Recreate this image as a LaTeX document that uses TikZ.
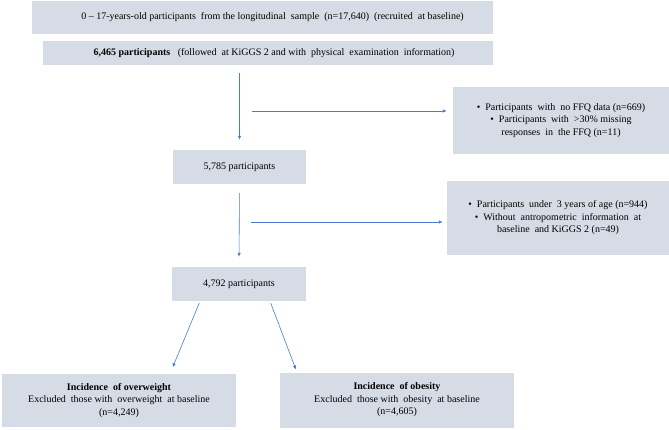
\documentclass[tikz,border=0pt]{standalone}
\usepackage{fontspec}
\setmainfont{Liberation Serif}
\usepackage{xcolor}
\usetikzlibrary{arrows.meta}
\definecolor{BoxGray}{HTML}{D6DCE5}
\definecolor{FlowBlue}{HTML}{4A7BD0}

\begin{document}
\begin{tikzpicture}[x=1pt, y=-1pt,
    box/.style={fill=BoxGray, inner sep=0pt, align=center, font=\fontsize{10}{12.5}\selectfont},
    flow/.style={draw=FlowBlue, line width=0.6pt, -{Latex[length=4pt,width=3.5pt]}}]
            \useasboundingbox (0,0) rectangle (669,430);
            % boxes of the flowchart, top to bottom
            \node[box, minimum width=461pt, minimum height=33pt] (sample) at (262.5,17.5) {\hspace*{20pt}0 -- 17-years-old participants\ \ from the longitudinal\ \ sample\ \ (n=17,640)\ \ (recruited\ \ at baseline)};
            \node[box, minimum width=450pt, minimum height=24pt] (followed) at (268,53) {\hspace*{12pt}\textbf{6,465 participants}\ \ \ (followed\ \ at KiGGS 2 and with\ \ physical\ \ examination\ \ information)};
            \node[box, minimum width=216pt, minimum height=67pt] (exclffq) at (561,120.5) {\textbullet\ \ Participants\ \ with\ \ no FFQ data (n=669)\\ \textbullet\ \ Participants\ \ with\ \ >30\% missing\\ responses\ \ in\ \ the FFQ (n=11)};
            \node[box, minimum width=133pt, minimum height=34pt] (partA) at (239.5,167) {5,785 participants};
            \node[box, minimum width=222pt, minimum height=74pt] (exclage) at (558,218) {\textbullet\ \ Participants\ \ under\ \ 3 years of age (n=944)\\ \textbullet\ \ Without\ \ antropometric\ \ information\ \ at\\ baseline\ \ and KiGGS 2 (n=49)};
            \node[box, minimum width=134pt, minimum height=34pt] (partB) at (239,284) {4,792 participants};
            \node[box, minimum width=234pt, minimum height=53pt] (overweight) at (119,400.5) {\textbf{Incidence\ \ of overweight}\\ Excluded\ \ those with\ \ overweight\ \ at baseline\\ (n=4,249)};
            \node[box, minimum width=234pt, minimum height=55pt] (obesity) at (397,400) {\textbf{Incidence\ \ of obesity}\\ Excluded\ \ those with\ \ obesity\ \ at baseline\\ (n=4,605)};

            % start points of the side branches
            \coordinate (branchA) at (252,111);
            \coordinate (branchB) at (251,222);

            \draw[flow, shorten <=8pt, shorten >=10pt] (partA.north |- followed.south) -- (partA.north);
            \draw[flow, shorten >=6pt] (branchA) -- (branchA -| exclffq.west);
            \draw[flow, shorten <=9pt, shorten >=10pt] (partA.south) -- (partB.north);
            \draw[flow, shorten >=4pt] (branchB) -- (branchB -| exclage.west);
            \draw[flow, shorten <=2pt, shorten >=7pt] ([xshift=-39pt]partB.south) -- ([xshift=51pt]overweight.north);
            \draw[flow, shorten <=2pt, shorten >=3pt] ([xshift=31pt]partB.south) -- ([xshift=-100pt]obesity.north);
        \end{tikzpicture}
\end{document}
